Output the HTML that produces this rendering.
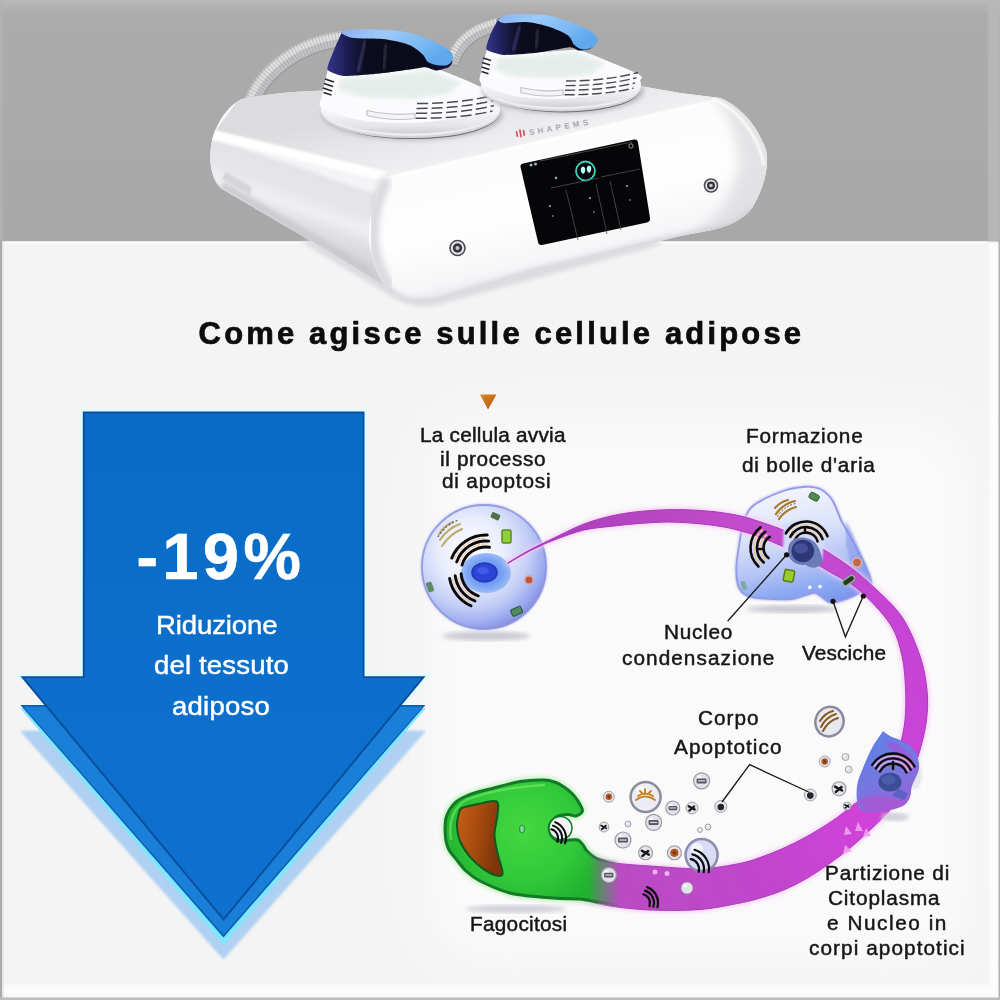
<!DOCTYPE html>
<html><head><meta charset="utf-8">
<style>
html,body{margin:0;padding:0;background:#f4f4f4;}
body{width:1000px;height:1000px;overflow:hidden;position:relative;font-family:"Liberation Sans",sans-serif;}
svg{position:absolute;left:0;top:0;}
.t{position:absolute;white-space:nowrap;color:#161616;font-family:"Liberation Sans",sans-serif;text-align:center;transform-origin:0 0;}
</style></head><body>
<svg width="1000" height="1000" viewBox="0 0 1000 1000">
<defs>
<linearGradient id="gtop" x1="0" y1="0" x2="0" y2="1"><stop offset="0" stop-color="#b9b9b9"/><stop offset="0.06" stop-color="#ababab"/><stop offset="1" stop-color="#a8a8a8"/></linearGradient>
<filter id="b1"><feGaussianBlur stdDeviation="1"/></filter>
<filter id="b2"><feGaussianBlur stdDeviation="2"/></filter>
<filter id="b3"><feGaussianBlur stdDeviation="3.5"/></filter>
<filter id="b6"><feGaussianBlur stdDeviation="6"/></filter>
<filter id="b20" x="-20%" y="-20%" width="140%" height="140%"><feGaussianBlur stdDeviation="22"/></filter>
</defs>
<!-- BG -->
<rect x="0" y="0" width="1000" height="1000" fill="#f4f4f4"/>
<rect x="0" y="0" width="1000" height="241.500" fill="url(#gtop)"/>
<rect x="2" y="241.500" width="996" height="1.500" fill="#fdfdfd"/>
<!--DEVICE-->
<defs>
<linearGradient id="dleft" gradientUnits="userSpaceOnUse" x1="292" y1="162" x2="268" y2="232"><stop offset="0" stop-color="#f4f4f6"/><stop offset="0.08" stop-color="#e4e4e8"/><stop offset="0.35" stop-color="#e6e6ea"/><stop offset="0.55" stop-color="#efeff2"/><stop offset="0.75" stop-color="#e0e0e4"/><stop offset="1" stop-color="#d2d2d7"/></linearGradient>
<linearGradient id="dfront" gradientUnits="userSpaceOnUse" x1="545" y1="140" x2="577" y2="272"><stop offset="0" stop-color="#fcfcfd"/><stop offset="0.5" stop-color="#fefefe"/><stop offset="0.85" stop-color="#f6f6f8"/><stop offset="1" stop-color="#e2e2e6"/></linearGradient>
<linearGradient id="dtop" gradientUnits="userSpaceOnUse" x1="480" y1="84" x2="497" y2="156"><stop offset="0" stop-color="#dcdcdf"/><stop offset="0.45" stop-color="#e7e7ea"/><stop offset="1" stop-color="#f1f1f3"/></linearGradient>
<linearGradient id="dright" gradientUnits="userSpaceOnUse" x1="690" y1="120" x2="770" y2="170"><stop offset="0" stop-color="#ffffff" stop-opacity="0"/><stop offset="0.55" stop-color="#efeff1" stop-opacity="0.9"/><stop offset="1" stop-color="#dcdce0"/></linearGradient>
<linearGradient id="dnavy" x1="0" y1="0" x2="1" y2="0"><stop offset="0" stop-color="#34348c"/><stop offset="0.16" stop-color="#1d1d52"/><stop offset="0.3" stop-color="#0c0c1e"/><stop offset="0.75" stop-color="#0a0a18"/><stop offset="1" stop-color="#15153a"/></linearGradient>
<linearGradient id="dblue" x1="0" y1="0" x2="1" y2="0.5"><stop offset="0" stop-color="#8eaef2"/><stop offset="0.35" stop-color="#9ccaf8"/><stop offset="0.75" stop-color="#7ab8f4"/><stop offset="1" stop-color="#5fa8ee"/></linearGradient>
<linearGradient id="ddisc" x1="0" y1="0" x2="0" y2="1"><stop offset="0" stop-color="#ffffff"/><stop offset="0.55" stop-color="#f6f6f8"/><stop offset="0.85" stop-color="#e6e6ea"/><stop offset="1" stop-color="#cfcfd4"/></linearGradient>
<clipPath id="dbody"><path d="M242 99 Q275 92.500 312 91 L480 86 L640 86 L680 93 L720 98 C740 106 757 125 766 150 C769 166 765 186 752 208 C745 218 730 226 712 230 L680 236 L654 242.400 L532 272 L434 301 C415 303.500 398 298 386 287 L330 252 L222 189 C211 180 208 160 212 141 C217 120 230 104 242 99Z"/></clipPath>
</defs>
<!-- shadow under device on white -->
<path d="M300 241L397 300C415 309 434 307 445 303L660 245V241Z" fill="#d9d9de" filter="url(#b2)" opacity="0.9"/>
<g fill="none" stroke-linecap="butt"><path d="M250 104C262 72 296 44 343 38" stroke="#9c9c9f" stroke-width="15.0" transform="translate(0.800 1.200)"/><path d="M250 104C262 72 296 44 343 38" stroke="#c3c3c5" stroke-width="15.0"/><path d="M250 104C262 72 296 44 343 38" stroke="#dfdfe0" stroke-width="6.0" transform="translate(-1.500 -2.200)"/><path d="M250 104C262 72 296 44 343 38" stroke="#77777c" stroke-width="15.0" stroke-dasharray="1 2.200" opacity="0.28"/></g><g fill="none" stroke-linecap="butt"><path d="M451 64C457 44 470 31 498 24" stroke="#9c9c9f" stroke-width="13.0" transform="translate(0.800 1.200)"/><path d="M451 64C457 44 470 31 498 24" stroke="#c3c3c5" stroke-width="13.0"/><path d="M451 64C457 44 470 31 498 24" stroke="#dfdfe0" stroke-width="5.2" transform="translate(-1.500 -2.200)"/><path d="M451 64C457 44 470 31 498 24" stroke="#77777c" stroke-width="13.0" stroke-dasharray="1 2.200" opacity="0.28"/></g><path d="M242 99 Q275 92.500 312 91 L480 86 L640 86 L680 93 L720 98 C740 106 757 125 766 150 C769 166 765 186 752 208 C745 218 730 226 712 230 L680 236 L654 242.400 L532 272 L434 301 C415 303.500 398 298 386 287 L330 252 L222 189 C211 180 208 160 212 141 C217 120 230 104 242 99Z" fill="#f7f7f9"/><g clip-path="url(#dbody)">
<path d="M205 145L242 95L312 88L480 82L640 82L725 92L735 104L721 99.500L382 180Z" fill="url(#dtop)"/>
<path d="M200 136L384 180L392 295L320 255L200 195Z" fill="url(#dleft)"/>
<path d="M206 133L386 176.500" stroke="#ffffff" stroke-width="10" filter="url(#b1)"/>
<path d="M222 185L330 248L386 283" stroke="#c6c6cc" stroke-width="8" opacity="0.8" filter="url(#b2)"/>
<path d="M226 172l26 15l-2 8l-28 -16z" fill="#d2d2d6" opacity="0.9" filter="url(#b1)"/>
<path d="M383 178C375 195 369 215 369 234C369 255 375 272 386 287L434 308L775 235L775 100L721 98.500Z" fill="url(#dfront)"/>
<path d="M383 179L721 99" stroke="#ffffff" stroke-width="3" filter="url(#b1)" opacity="0.95"/>
<path d="M383 178C375 195 369 215 369 234C369 255 375 272 386 287" stroke="#d4d4da" stroke-width="10" fill="none" filter="url(#b3)" transform="translate(4 0)"/>
<path d="M700 82L775 82L775 240L690 240C720 215 738 190 738 160C738 130 725 108 700 82Z" fill="#dadade" opacity="0.75" filter="url(#b6)"/>
<path d="M712 99C738 108 758 135 764 165" stroke="#ffffff" stroke-width="2.500" fill="none" opacity="0.9" filter="url(#b1)"/>
<path d="M386 288C398 299 415 304.500 434 302L532 273L654 243.400L712 231C730 227 745 219 752 209" stroke="#cfcfd5" stroke-width="7" fill="none" opacity="0.85" filter="url(#b2)"/>
</g>
<ellipse cx="412.5" cy="115.0" rx="90.5" ry="25.5" fill="#b4b4ba" filter="url(#b2)" opacity="0.85"/><ellipse cx="412.5" cy="113.6" rx="86.5" ry="25.5" fill="#55555d" opacity="0.75"/><ellipse cx="410.5" cy="112.6" rx="89.0" ry="25.5" fill="#d3d3d8"/><ellipse cx="410.5" cy="110.4" rx="89.5" ry="25.5" fill="#ececef"/><ellipse cx="410.5" cy="108.0" rx="89.5" ry="25.5" fill="url(#ddisc)"/><path d="M328.0 69.0 C327.2 72.6 322.8 90.8 322.0 96.0 C321.2 101.2 316.9 104.8 322.0 108.0 C327.1 111.2 348.1 118.0 360.0 120.0 C371.9 122.0 396.3 123.5 411.0 123.0 C425.7 122.5 458.3 118.5 470.0 116.0 C481.7 113.5 495.4 106.7 499.0 104.0 C502.6 101.3 500.9 98.9 497.0 96.0 C493.1 93.1 477.6 85.5 470.0 82.0 C462.4 78.5 446.0 72.1 440.0 70.0 C434.0 67.9 433.4 65.7 425.0 66.0 C416.6 66.3 387.8 70.8 377.0 72.0 C366.2 73.2 350.5 75.4 344.0 75.0 C337.5 74.6 330.1 69.8 328.0 69.0Z" fill="#fbfbfd"/><path d="M340.0 78.0 L385.0 76.0 L428.0 70.0 L462.0 82.0 L448.0 94.0 L415.0 99.0 L360.0 97.0 L338.0 90.0Z" fill="#dde8e4" opacity="0.7" filter="url(#b2)"/><path d="M342.0 32.0 C345.2 32.0 372.7 31.0 380.0 32.0 C387.3 33.0 424.0 41.7 430.0 44.0 C436.0 46.3 450.4 58.1 452.0 60.0 C453.6 61.9 450.3 66.1 449.0 67.0 C447.7 67.9 438.4 70.5 436.4 70.5 C434.4 70.5 427.6 67.3 425.4 67.2 C423.2 67.1 414.0 68.9 410.0 69.4 C406.0 70.0 382.5 73.2 377.0 73.8 C371.5 74.3 348.1 76.4 344.0 76.0 C339.9 75.6 328.3 71.6 327.5 69.4 C326.7 67.2 332.8 53.1 334.0 50.0 C335.2 46.9 341.3 33.5 342.0 32.0Z" fill="url(#dnavy)"/><path d="M365.1 40.0L358.1 72.0" stroke="#6a6ab8" stroke-width="2" opacity="0.55" filter="url(#b1)"/><path d="M386.0 44.0L383.5 70.0" stroke="#9a9ab0" stroke-width="1.500" opacity="0.45" filter="url(#b1)"/><path d="M340.7 33.1 C341.9 32.6 343.0 30.4 348.4 29.8 C353.8 29.2 368.4 29.1 377.0 29.4 C385.6 29.7 397.4 30.3 405.6 32.0 C413.9 33.7 425.4 38.0 432.0 40.8 C438.6 43.6 446.5 48.1 449.6 50.7 C452.8 53.3 453.3 56.3 453.0 58.4 C452.7 60.5 449.9 64.0 447.4 65.0 C444.9 66.0 439.4 65.5 436.4 65.0 C433.4 64.5 429.6 63.2 427.6 61.7 C425.6 60.2 425.8 57.6 423.2 55.1 C420.6 52.6 415.3 47.5 410.0 45.2 C404.7 42.9 394.6 40.7 388.0 39.7 C381.4 38.7 371.6 38.9 366.0 38.6 C360.4 38.3 354.4 38.3 350.6 37.5 C346.8 36.7 342.2 33.8 340.7 33.1Z" fill="url(#dblue)"/><g stroke="#4a4a54" stroke-width="1.500" fill="none" stroke-dasharray="11 4"><path d="M417.0 103.5Q462.0 103.7 497.0 94.5"/><path d="M416.5 108.4Q462.0 108.6 495.5 100.0"/><path d="M416.0 113.3Q462.0 113.5 494.0 105.5"/><path d="M415.5 118.2Q462.0 118.4 492.5 111.0"/></g><path d="M367 110.500Q392 116 415 113.500L415 118.500Q392 121.500 367 115.500Z" fill="#f4f4f6" stroke="#c2c2c8" stroke-width="1.200"/><g stroke="#26262e" stroke-width="1.700"><path d="M325 79l9 3M324 83.500l9 3M323 88l9 3M323.500 92.500l8 2.500"/></g><ellipse cx="563.0" cy="91.0" rx="81.0" ry="23.0" fill="#b4b4ba" filter="url(#b2)" opacity="0.85"/><ellipse cx="563.0" cy="89.6" rx="77.0" ry="23.0" fill="#55555d" opacity="0.75"/><ellipse cx="561.0" cy="88.6" rx="79.5" ry="23.0" fill="#d3d3d8"/><ellipse cx="561.0" cy="86.4" rx="80.0" ry="23.0" fill="#ececef"/><ellipse cx="561.0" cy="84.0" rx="80.0" ry="23.0" fill="url(#ddisc)"/><path d="M487.0 49.0 C486.2 52.1 481.7 67.3 481.0 72.0 C480.3 76.7 477.5 80.8 482.0 84.0 C486.5 87.2 504.6 94.0 515.0 96.0 C525.4 98.0 547.3 99.4 560.0 99.0 C572.7 98.6 599.3 95.5 610.0 93.0 C620.7 90.5 636.3 82.5 640.0 80.0 C643.7 77.5 642.0 76.4 638.0 74.0 C634.0 71.6 617.1 64.9 610.0 62.0 C602.9 59.1 589.8 53.6 585.0 52.0 C580.2 50.4 580.4 49.9 574.0 50.0 C567.6 50.1 546.3 51.9 537.0 52.5 C527.7 53.1 510.7 55.0 504.0 54.5 C497.3 54.0 489.3 49.7 487.0 49.0Z" fill="#fbfbfd"/><path d="M497.0 58.0 L532.0 56.0 L576.0 52.0 L606.0 63.0 L592.0 74.0 L565.0 78.0 L515.0 77.0 L495.0 70.0Z" fill="#dde8e4" opacity="0.7" filter="url(#b2)"/><path d="M499.0 18.0 C502.4 17.9 533.7 16.2 540.0 17.0 C546.3 17.8 570.3 24.9 575.0 27.0 C579.7 29.1 594.8 40.2 596.0 42.0 C597.2 43.8 591.4 48.3 590.0 49.0 C588.6 49.7 580.5 50.7 578.8 50.6 C577.1 50.5 573.5 47.1 570.0 47.3 C566.5 47.5 542.5 52.2 537.0 52.8 C531.5 53.4 508.2 55.3 504.0 55.0 C499.8 54.7 487.5 51.3 486.4 49.5 C485.3 47.7 489.9 35.6 491.0 33.0 C492.1 30.4 498.3 19.2 499.0 18.0Z" fill="url(#dnavy)"/><path d="M520.0 25.0L513.0 51.0" stroke="#6a6ab8" stroke-width="2" opacity="0.55" filter="url(#b1)"/><path d="M537.9 29.0L535.7 49.0" stroke="#9a9ab0" stroke-width="1.500" opacity="0.45" filter="url(#b1)"/><path d="M497.4 19.8 C499.4 19.0 503.0 15.0 510.6 14.3 C518.2 13.6 539.1 14.2 548.0 15.4 C556.9 16.6 563.7 19.7 570.0 22.0 C576.3 24.3 585.7 28.3 589.8 30.8 C593.9 33.3 596.8 36.2 597.5 38.5 C598.2 40.8 596.3 44.6 594.2 46.2 C592.1 47.9 586.2 49.7 583.2 49.5 C580.2 49.3 576.7 47.2 574.4 45.1 C572.1 43.0 571.8 38.0 567.8 35.2 C563.8 32.4 554.3 28.4 548.0 26.4 C541.7 24.4 532.6 22.5 526.0 22.0 C519.4 21.5 508.3 23.4 504.0 23.1 C499.7 22.8 498.4 20.3 497.4 19.8Z" fill="url(#dblue)"/><g stroke="#4a4a54" stroke-width="1.400" fill="none" stroke-dasharray="10 3.600"><path d="M566.0 81.0Q606.0 81.0 638.0 72.5"/><path d="M565.5 85.6Q606.0 85.6 636.5 77.7"/><path d="M565.0 90.2Q606.0 90.2 635.0 82.9"/><path d="M564.5 94.8Q606.0 94.8 633.5 88.1"/></g><path d="M521 87.500Q543 92.500 563 90L563 95Q543 98 521 92.500Z" fill="#f4f4f6" stroke="#c2c2c8" stroke-width="1.200"/><g stroke="#26262e" stroke-width="1.600"><path d="M483 58l8 2.500M482 62.500l8 2.500M481.500 67l8 2.500M481.500 71.500l7 2.200"/></g><g transform="translate(517 134) rotate(-10)"><path d="M0 -3v6M3.500 -4v8M7 -3v6" stroke="#d84a5a" stroke-width="1.600"/><text x="12" y="3.300" font-family="Liberation Sans, sans-serif" font-size="8" font-weight="bold" fill="#aaaab4" letter-spacing="3.400">SHAPEMS</text></g><path d="M523 163.500L634 139.500Q637.500 139 638 142.500L650 218Q650.500 221.500 647 222.500L542 245Q538.500 245.500 538 242L520.500 167Q520 164 523 163.500Z" fill="#060608"/><g stroke="#3fd0c0" fill="none"><circle cx="585.500" cy="171" r="9.500" stroke-width="1.800"/></g><path d="M581 168q2 -3 4 0q1 4 -2 6q-3 -2 -2 -6zM587 167q2 -3 4 0q1 4 -2 6q-3 -2 -2 -6z" fill="#bff"/><g stroke="#4a4f54" stroke-width="0.800" fill="none"><path d="M566 190L578 240M596 184L607 234M610 181L621 230M551 188L599 178M601 177L640 169"/><path d="M540 161L632 142" stroke="#555"/></g><g fill="#9bb"><circle cx="531" cy="165" r="1.500"/><circle cx="535.500" cy="164" r="1.500"/><circle cx="556" cy="178" r="1.200"/><circle cx="550" cy="206" r="1"/><circle cx="590" cy="198" r="1"/><circle cx="627" cy="186" r="1"/><circle cx="553" cy="216" r="0.800"/><circle cx="594" cy="212" r="0.800"/><circle cx="630" cy="200" r="0.800"/></g><circle cx="631" cy="146" r="2.200" fill="none" stroke="#bbb" stroke-width="0.800"/><circle cx="457.5" cy="248.0" r="7.5" fill="#e8e8ec" stroke="#4a4a52" stroke-width="1.600"/><circle cx="457.5" cy="248.0" r="4.7" fill="#34343c"/><circle cx="457.5" cy="248.0" r="2.1" fill="#c8c8d0"/><circle cx="711.0" cy="185.5" r="6.5" fill="#e8e8ec" stroke="#4a4a52" stroke-width="1.600"/><circle cx="711.0" cy="185.5" r="4.0" fill="#34343c"/><circle cx="711.0" cy="185.5" r="1.8" fill="#c8c8d0"/>
<!--/DEVICE-->
<rect id="wpatch" x="430" y="420" width="540" height="540" rx="60" fill="#fdfdfd" opacity="0.7" filter="url(#b20)"/>
<!--ARROW-->
<g>
<defs>
<linearGradient id="ga" x1="0" y1="0" x2="0" y2="1"><stop offset="0" stop-color="#086cc6"/><stop offset="0.5" stop-color="#0b6fcb"/><stop offset="1" stop-color="#0f70cf"/></linearGradient>
</defs>
<!-- halo -->
<path d="M82.800 411.500H364.500V676.300H425.500L223.500 921L20.400 676.300H82.800Z" fill="none" stroke="#dffcff" stroke-width="5" filter="url(#b1)"/>
<!-- layer3 light -->
<path d="M20.400 731H425.500L223.500 959Z" fill="#a9d4f3" filter="url(#b1)"/>
<path d="M22 731H60L223.500 915L380 731H425L223.500 959Z" fill="#b7cdf0" opacity="0.500" filter="url(#b2)"/>
<!-- cyan line -->
<path d="M20.400 708.500H425.500L223.500 945Z" fill="#7fe6ff"/>
<!-- layer2 -->
<path d="M20.400 704.900H425.500L223.500 937.500Z" fill="#0d5eae"/>
<path d="M23.500 706.700H422.500L223.500 935Z" fill="#1a7fd8"/>
<!-- cyan glint under main wing -->
<path d="M20.400 679H60L46 704.900H20.400Z" fill="#f4f4f4"/>
<!-- layer1 main -->
<path d="M82.800 411.500H364.500V676.300H425.500L223.500 921L20.400 676.300H82.800Z" fill="#0a4f9c"/>
<path d="M84.800 413.500H362.800V678H421.500L223.500 918L24.500 678H84.800Z" fill="url(#ga)"/>
</g>
<!--LOOP-->

<!--/LOOP-->
<!--CELLS-->
<defs>
<radialGradient id="gc1" cx="0.4" cy="0.37" r="0.66"><stop offset="0" stop-color="#ffffff"/><stop offset="0.4" stop-color="#e9edfc"/><stop offset="0.7" stop-color="#c3cef6"/><stop offset="0.9" stop-color="#9aa9ee"/><stop offset="1" stop-color="#888fde"/></radialGradient>
<radialGradient id="gn1" cx="0.5" cy="0.5" r="0.5"><stop offset="0" stop-color="#4f7cf0"/><stop offset="0.7" stop-color="#7aa4f4"/><stop offset="1" stop-color="#9dbcf6"/></radialGradient>
</defs>
<ellipse cx="486" cy="636" rx="44" ry="4.500" fill="#c9c9d2" filter="url(#b2)"/>
<circle cx="484" cy="567" r="63.500" fill="#c9cdf3" filter="url(#b1)"/>
<circle cx="484" cy="567" r="62" fill="url(#gc1)" stroke="#8a92de" stroke-width="1.800" stroke-opacity="0.85"/>
<ellipse cx="486" cy="573" rx="25" ry="20" fill="url(#gn1)"/>
<ellipse cx="484.500" cy="572.500" rx="12.500" ry="9.500" fill="#2c44d8" stroke="#2236b4" stroke-width="1.500"/>
<ellipse cx="483" cy="570.500" rx="6" ry="3.500" fill="#4a66ea" opacity="0.7"/>
<path d="M462.0 565.1 A25.0 25.0 0 0 1 489.5 547.2" fill="none" stroke="#0a0a0a" stroke-width="2.9" stroke-linecap="round"/><path d="M456.7 561.9 A31.0 31.0 0 0 1 488.7 541.1" fill="none" stroke="#0a0a0a" stroke-width="2.9" stroke-linecap="round"/><path d="M451.7 558.1 A37.0 37.0 0 0 1 487.3 535.0" fill="none" stroke="#0a0a0a" stroke-width="2.9" stroke-linecap="round"/><g opacity="0.9"><path d="M459.7 562.4 A28.0 28.0 0 0 1 487.0 544.0" fill="none" stroke="#f2c8a8" stroke-width="1.5" stroke-linecap="round" stroke-dasharray="3 2"/><path d="M454.7 558.7 A34.0 34.0 0 0 1 485.4 538.0" fill="none" stroke="#f2c8a8" stroke-width="1.5" stroke-linecap="round" stroke-dasharray="3 2"/></g><path d="M478.3 595.8 A25.0 25.0 0 0 1 461.1 573.7" fill="none" stroke="#0a0a0a" stroke-width="2.9" stroke-linecap="round"/><path d="M474.9 600.9 A31.0 31.0 0 0 1 455.2 575.8" fill="none" stroke="#0a0a0a" stroke-width="2.9" stroke-linecap="round"/><path d="M471.0 605.8 A37.0 37.0 0 0 1 449.6 578.4" fill="none" stroke="#0a0a0a" stroke-width="2.9" stroke-linecap="round"/><g opacity="0.9"><path d="M475.5 598.0 A28.0 28.0 0 0 1 458.3 575.9" fill="none" stroke="#f2c8a8" stroke-width="1.5" stroke-linecap="round" stroke-dasharray="3 2"/><path d="M471.6 602.8 A34.0 34.0 0 0 1 452.6 578.5" fill="none" stroke="#f2c8a8" stroke-width="1.5" stroke-linecap="round" stroke-dasharray="3 2"/></g><g stroke="#b8a25a" stroke-width="2" fill="none" stroke-linecap="round" opacity="0.9"><path d="M440 540q8 -12 20 -16"/><path d="M442 546q8 -12 20 -17"/><path d="M439 534q6 -9 14 -12"/></g><g stroke="#555" stroke-width="1.200" fill="none" stroke-dasharray="2 2"><path d="M438 537q8 -13 21 -17"/></g><rect x="502" y="530" width="9" height="13" rx="1.500" fill="#8fcf3a" stroke="#5c8a2a" stroke-width="1.500"/><circle cx="529" cy="580" r="4" fill="#c0563a" stroke="#d9a090" stroke-width="1.500"/><rect x="491" y="513" width="9" height="6" rx="1.500" fill="#4f6f4a" transform="rotate(25 495 516)"/><rect x="427" y="582" width="6" height="10" rx="1.500" fill="#5f8a66" transform="rotate(-20 430 587)"/><rect x="511" y="608" width="11" height="7" rx="1.500" fill="#4f8a5a" stroke="#2f4f3a" stroke-width="1" transform="rotate(-25 516 611)"/><defs>
<linearGradient id="gc2" gradientUnits="userSpaceOnUse" x1="790" y1="488" x2="815" y2="604"><stop offset="0" stop-color="#f2f4fd"/><stop offset="0.35" stop-color="#dde4fa"/><stop offset="0.65" stop-color="#b4c4f5"/><stop offset="0.85" stop-color="#8eaaf2"/><stop offset="1" stop-color="#7b98ee"/></linearGradient>
<clipPath id="cc2"><path d="M807.5 486.6 C803.8 487.2 794.1 487.3 785.0 490.5 C775.9 493.7 760.0 500.2 753.0 506.0 C746.0 511.8 745.3 518.5 743.0 525.0 C740.7 531.5 740.4 537.9 739.3 544.7 C738.2 551.5 736.8 559.5 736.5 566.0 C736.2 572.5 736.6 579.0 737.7 583.5 C738.8 588.0 740.5 590.7 743.0 593.0 C745.5 595.3 748.2 596.4 753.0 597.4 C757.8 598.4 765.5 598.7 772.0 599.0 C778.5 599.3 786.3 599.7 792.0 599.0 C797.7 598.3 802.2 596.0 806.0 595.0 C809.8 594.0 812.3 592.5 815.0 592.8 C817.7 593.1 819.7 595.5 822.0 597.0 C824.3 598.5 826.3 601.2 829.0 602.0 C831.7 602.8 835.2 602.0 838.0 601.5 C840.8 601.0 842.3 600.5 846.0 599.0 C849.7 597.5 855.8 595.1 860.0 592.5 C864.2 589.9 870.0 587.8 871.0 583.5 C872.0 579.2 868.1 572.2 866.0 567.0 C863.9 561.8 861.3 557.7 858.6 552.5 C855.9 547.3 852.8 541.2 850.0 536.0 C847.2 530.8 843.9 526.2 841.6 521.5 C839.3 516.8 837.8 511.9 836.0 508.0 C834.2 504.1 833.4 501.2 830.7 498.0 C828.0 494.8 823.9 490.9 820.0 489.0 C816.1 487.1 809.6 487.0 807.5 486.6Z"/></clipPath>
</defs>
<ellipse cx="792" cy="609" rx="46" ry="4" fill="#c9c9d2" filter="url(#b2)"/>
<path d="M807.5 486.6 C803.8 487.2 794.1 487.3 785.0 490.5 C775.9 493.7 760.0 500.2 753.0 506.0 C746.0 511.8 745.3 518.5 743.0 525.0 C740.7 531.5 740.4 537.9 739.3 544.7 C738.2 551.5 736.8 559.5 736.5 566.0 C736.2 572.5 736.6 579.0 737.7 583.5 C738.8 588.0 740.5 590.7 743.0 593.0 C745.5 595.3 748.2 596.4 753.0 597.4 C757.8 598.4 765.5 598.7 772.0 599.0 C778.5 599.3 786.3 599.7 792.0 599.0 C797.7 598.3 802.2 596.0 806.0 595.0 C809.8 594.0 812.3 592.5 815.0 592.8 C817.7 593.1 819.7 595.5 822.0 597.0 C824.3 598.5 826.3 601.2 829.0 602.0 C831.7 602.8 835.2 602.0 838.0 601.5 C840.8 601.0 842.3 600.5 846.0 599.0 C849.7 597.5 855.8 595.1 860.0 592.5 C864.2 589.9 870.0 587.8 871.0 583.5 C872.0 579.2 868.1 572.2 866.0 567.0 C863.9 561.8 861.3 557.7 858.6 552.5 C855.9 547.3 852.8 541.2 850.0 536.0 C847.2 530.8 843.9 526.2 841.6 521.5 C839.3 516.8 837.8 511.9 836.0 508.0 C834.2 504.1 833.4 501.2 830.7 498.0 C828.0 494.8 823.9 490.9 820.0 489.0 C816.1 487.1 809.6 487.0 807.5 486.6Z" fill="#b9c0f0" stroke="#b9c0f0" stroke-width="3" filter="url(#b1)"/>
<path d="M807.5 486.6 C803.8 487.2 794.1 487.3 785.0 490.5 C775.9 493.7 760.0 500.2 753.0 506.0 C746.0 511.8 745.3 518.5 743.0 525.0 C740.7 531.5 740.4 537.9 739.3 544.7 C738.2 551.5 736.8 559.5 736.5 566.0 C736.2 572.5 736.6 579.0 737.7 583.5 C738.8 588.0 740.5 590.7 743.0 593.0 C745.5 595.3 748.2 596.4 753.0 597.4 C757.8 598.4 765.5 598.7 772.0 599.0 C778.5 599.3 786.3 599.7 792.0 599.0 C797.7 598.3 802.2 596.0 806.0 595.0 C809.8 594.0 812.3 592.5 815.0 592.8 C817.7 593.1 819.7 595.5 822.0 597.0 C824.3 598.5 826.3 601.2 829.0 602.0 C831.7 602.8 835.2 602.0 838.0 601.5 C840.8 601.0 842.3 600.5 846.0 599.0 C849.7 597.5 855.8 595.1 860.0 592.5 C864.2 589.9 870.0 587.8 871.0 583.5 C872.0 579.2 868.1 572.2 866.0 567.0 C863.9 561.8 861.3 557.7 858.6 552.5 C855.9 547.3 852.8 541.2 850.0 536.0 C847.2 530.8 843.9 526.2 841.6 521.5 C839.3 516.8 837.8 511.9 836.0 508.0 C834.2 504.1 833.4 501.2 830.7 498.0 C828.0 494.8 823.9 490.9 820.0 489.0 C816.1 487.1 809.6 487.0 807.5 486.6Z" fill="url(#gc2)" stroke="#959be6" stroke-width="1.800"/>
<path d="M846 520 Q862 550 871 583 Q860 594 846 599 Q856 575 846 545Z" fill="#7f92ea" opacity="0.55" filter="url(#b1)"/>
<defs>
<linearGradient id="gl" gradientUnits="userSpaceOnUse" x1="508" y1="560" x2="930" y2="700"><stop offset="0" stop-color="#a63cb8"/><stop offset="0.45" stop-color="#c24ccc"/><stop offset="1" stop-color="#c743d6"/></linearGradient>
<linearGradient id="gl2" gradientUnits="userSpaceOnUse" x1="930" y1="700" x2="590" y2="890"><stop offset="0" stop-color="#c743d6"/><stop offset="0.3" stop-color="#d042d8"/><stop offset="0.6" stop-color="#c046cc"/><stop offset="1" stop-color="#b94cc2"/></linearGradient>
<clipPath id="ctop"><rect x="400" y="400" width="600" height="300"/></clipPath>
<clipPath id="cbot"><rect x="400" y="700" width="600" height="300"/></clipPath>
</defs>
<path d="M508.0 562.8 C510.8 561.1 519.7 555.6 525.0 552.6 C530.3 549.6 534.8 547.4 540.0 544.8 C545.2 542.2 548.7 540.5 556.0 537.0 C563.3 533.5 574.7 527.5 584.0 524.0 C593.3 520.5 602.7 517.9 612.0 515.8 C621.3 513.7 630.7 512.4 640.0 511.4 C649.3 510.4 658.7 509.9 668.0 509.7 C677.3 509.5 686.7 509.6 696.0 510.2 C705.3 510.8 714.7 511.5 724.0 513.0 C733.3 514.5 739.3 515.2 752.0 519.2 C764.7 523.2 785.3 530.2 800.0 537.0 C814.7 543.8 828.0 551.9 840.0 560.0 C852.0 568.1 861.7 576.1 872.0 585.6 C882.3 595.1 894.0 605.3 902.0 617.0 C910.0 628.7 915.8 643.8 920.0 656.0 C924.2 668.2 925.9 679.3 927.0 690.0 C928.1 700.7 927.7 710.0 926.5 720.0 C925.3 730.0 922.6 740.7 920.0 750.0 C917.4 759.3 914.2 768.5 911.0 776.0 C907.8 783.5 904.6 789.2 901.0 795.0 C897.4 800.8 894.4 805.1 889.6 810.6 C884.8 816.1 878.6 822.0 872.0 828.2 C865.4 834.4 857.3 842.0 850.0 848.0 C842.7 854.0 835.3 859.4 828.0 864.5 C820.7 869.6 813.3 874.6 806.0 878.8 C798.7 883.0 791.3 886.7 784.0 889.8 C776.7 892.9 769.3 895.3 762.0 897.5 C754.7 899.7 750.3 901.0 740.0 903.0 C729.7 905.0 715.0 908.3 700.0 909.5 C685.0 910.7 665.0 910.6 650.0 910.0 C635.0 909.4 620.7 907.5 610.0 906.0 C599.3 904.5 592.3 902.3 586.0 901.0 C579.7 899.7 574.3 898.5 572.0 898.0 L590.0 855.0 C593.7 856.2 602.0 860.7 612.0 862.5 C622.0 864.3 635.3 865.0 650.0 866.0 C664.7 867.0 685.0 869.1 700.0 868.7 C715.0 868.3 729.7 865.4 740.0 863.4 C750.3 861.4 754.7 859.4 762.0 856.8 C769.3 854.2 776.7 851.3 784.0 848.0 C791.3 844.7 798.7 841.0 806.0 837.0 C813.3 833.0 821.8 827.8 828.0 823.8 C834.2 819.8 839.0 816.1 843.4 812.8 C847.8 809.5 850.9 806.5 854.4 804.0 C857.9 801.5 860.9 800.7 864.5 798.0 C868.1 795.3 871.8 792.7 876.0 788.0 C880.2 783.3 886.0 777.2 890.0 770.0 C894.0 762.8 897.5 753.3 900.0 745.0 C902.5 736.7 904.1 729.2 905.0 720.0 C905.9 710.8 906.1 700.7 905.6 690.0 C905.1 679.3 904.6 667.0 902.0 656.0 C899.4 645.0 897.2 635.0 890.0 624.0 C882.8 613.0 869.0 598.7 859.0 590.0 C849.0 581.3 840.7 578.3 830.0 572.0 C819.3 565.7 806.7 557.8 795.0 552.0 C783.3 546.2 768.6 540.4 760.0 537.0 C751.4 533.6 749.6 533.5 743.6 531.8 C737.6 530.1 731.9 528.4 724.0 527.0 C716.1 525.6 705.3 524.2 696.0 523.4 C686.7 522.6 677.3 522.0 668.0 522.0 C658.7 522.0 649.3 522.7 640.0 523.4 C630.7 524.1 621.3 525.1 612.0 526.2 C602.7 527.3 593.3 527.8 584.0 530.0 C574.7 532.2 563.3 536.6 556.0 539.3 C548.7 542.0 545.2 543.6 540.0 546.0 C534.8 548.4 530.3 550.5 525.0 553.4 C519.7 556.3 510.8 561.7 508.0 563.4 Z" fill="#f4c8f4" opacity="0.9" stroke="#f4c8f4" stroke-width="4" filter="url(#b2)"/>
<path d="M508.0 562.8 C510.8 561.1 519.7 555.6 525.0 552.6 C530.3 549.6 534.8 547.4 540.0 544.8 C545.2 542.2 548.7 540.5 556.0 537.0 C563.3 533.5 574.7 527.5 584.0 524.0 C593.3 520.5 602.7 517.9 612.0 515.8 C621.3 513.7 630.7 512.4 640.0 511.4 C649.3 510.4 658.7 509.9 668.0 509.7 C677.3 509.5 686.7 509.6 696.0 510.2 C705.3 510.8 714.7 511.5 724.0 513.0 C733.3 514.5 739.3 515.2 752.0 519.2 C764.7 523.2 785.3 530.2 800.0 537.0 C814.7 543.8 828.0 551.9 840.0 560.0 C852.0 568.1 861.7 576.1 872.0 585.6 C882.3 595.1 894.0 605.3 902.0 617.0 C910.0 628.7 915.8 643.8 920.0 656.0 C924.2 668.2 925.9 679.3 927.0 690.0 C928.1 700.7 927.7 710.0 926.5 720.0 C925.3 730.0 922.6 740.7 920.0 750.0 C917.4 759.3 914.2 768.5 911.0 776.0 C907.8 783.5 904.6 789.2 901.0 795.0 C897.4 800.8 894.4 805.1 889.6 810.6 C884.8 816.1 878.6 822.0 872.0 828.2 C865.4 834.4 857.3 842.0 850.0 848.0 C842.7 854.0 835.3 859.4 828.0 864.5 C820.7 869.6 813.3 874.6 806.0 878.8 C798.7 883.0 791.3 886.7 784.0 889.8 C776.7 892.9 769.3 895.3 762.0 897.5 C754.7 899.7 750.3 901.0 740.0 903.0 C729.7 905.0 715.0 908.3 700.0 909.5 C685.0 910.7 665.0 910.6 650.0 910.0 C635.0 909.4 620.7 907.5 610.0 906.0 C599.3 904.5 592.3 902.3 586.0 901.0 C579.7 899.7 574.3 898.5 572.0 898.0 L590.0 855.0 C593.7 856.2 602.0 860.7 612.0 862.5 C622.0 864.3 635.3 865.0 650.0 866.0 C664.7 867.0 685.0 869.1 700.0 868.7 C715.0 868.3 729.7 865.4 740.0 863.4 C750.3 861.4 754.7 859.4 762.0 856.8 C769.3 854.2 776.7 851.3 784.0 848.0 C791.3 844.7 798.7 841.0 806.0 837.0 C813.3 833.0 821.8 827.8 828.0 823.8 C834.2 819.8 839.0 816.1 843.4 812.8 C847.8 809.5 850.9 806.5 854.4 804.0 C857.9 801.5 860.9 800.7 864.5 798.0 C868.1 795.3 871.8 792.7 876.0 788.0 C880.2 783.3 886.0 777.2 890.0 770.0 C894.0 762.8 897.5 753.3 900.0 745.0 C902.5 736.7 904.1 729.2 905.0 720.0 C905.9 710.8 906.1 700.7 905.6 690.0 C905.1 679.3 904.6 667.0 902.0 656.0 C899.4 645.0 897.2 635.0 890.0 624.0 C882.8 613.0 869.0 598.7 859.0 590.0 C849.0 581.3 840.7 578.3 830.0 572.0 C819.3 565.7 806.7 557.8 795.0 552.0 C783.3 546.2 768.6 540.4 760.0 537.0 C751.4 533.6 749.6 533.5 743.6 531.8 C737.6 530.1 731.9 528.4 724.0 527.0 C716.1 525.6 705.3 524.2 696.0 523.4 C686.7 522.6 677.3 522.0 668.0 522.0 C658.7 522.0 649.3 522.7 640.0 523.4 C630.7 524.1 621.3 525.1 612.0 526.2 C602.7 527.3 593.3 527.8 584.0 530.0 C574.7 532.2 563.3 536.6 556.0 539.3 C548.7 542.0 545.2 543.6 540.0 546.0 C534.8 548.4 530.3 550.5 525.0 553.4 C519.7 556.3 510.8 561.7 508.0 563.4 Z" fill="url(#gl)" stroke="#a83cba" stroke-width="1" clip-path="url(#ctop)"/>
<path d="M508.0 562.8 C510.8 561.1 519.7 555.6 525.0 552.6 C530.3 549.6 534.8 547.4 540.0 544.8 C545.2 542.2 548.7 540.5 556.0 537.0 C563.3 533.5 574.7 527.5 584.0 524.0 C593.3 520.5 602.7 517.9 612.0 515.8 C621.3 513.7 630.7 512.4 640.0 511.4 C649.3 510.4 658.7 509.9 668.0 509.7 C677.3 509.5 686.7 509.6 696.0 510.2 C705.3 510.8 714.7 511.5 724.0 513.0 C733.3 514.5 739.3 515.2 752.0 519.2 C764.7 523.2 785.3 530.2 800.0 537.0 C814.7 543.8 828.0 551.9 840.0 560.0 C852.0 568.1 861.7 576.1 872.0 585.6 C882.3 595.1 894.0 605.3 902.0 617.0 C910.0 628.7 915.8 643.8 920.0 656.0 C924.2 668.2 925.9 679.3 927.0 690.0 C928.1 700.7 927.7 710.0 926.5 720.0 C925.3 730.0 922.6 740.7 920.0 750.0 C917.4 759.3 914.2 768.5 911.0 776.0 C907.8 783.5 904.6 789.2 901.0 795.0 C897.4 800.8 894.4 805.1 889.6 810.6 C884.8 816.1 878.6 822.0 872.0 828.2 C865.4 834.4 857.3 842.0 850.0 848.0 C842.7 854.0 835.3 859.4 828.0 864.5 C820.7 869.6 813.3 874.6 806.0 878.8 C798.7 883.0 791.3 886.7 784.0 889.8 C776.7 892.9 769.3 895.3 762.0 897.5 C754.7 899.7 750.3 901.0 740.0 903.0 C729.7 905.0 715.0 908.3 700.0 909.5 C685.0 910.7 665.0 910.6 650.0 910.0 C635.0 909.4 620.7 907.5 610.0 906.0 C599.3 904.5 592.3 902.3 586.0 901.0 C579.7 899.7 574.3 898.5 572.0 898.0 L590.0 855.0 C593.7 856.2 602.0 860.7 612.0 862.5 C622.0 864.3 635.3 865.0 650.0 866.0 C664.7 867.0 685.0 869.1 700.0 868.7 C715.0 868.3 729.7 865.4 740.0 863.4 C750.3 861.4 754.7 859.4 762.0 856.8 C769.3 854.2 776.7 851.3 784.0 848.0 C791.3 844.7 798.7 841.0 806.0 837.0 C813.3 833.0 821.8 827.8 828.0 823.8 C834.2 819.8 839.0 816.1 843.4 812.8 C847.8 809.5 850.9 806.5 854.4 804.0 C857.9 801.5 860.9 800.7 864.5 798.0 C868.1 795.3 871.8 792.7 876.0 788.0 C880.2 783.3 886.0 777.2 890.0 770.0 C894.0 762.8 897.5 753.3 900.0 745.0 C902.5 736.7 904.1 729.2 905.0 720.0 C905.9 710.8 906.1 700.7 905.6 690.0 C905.1 679.3 904.6 667.0 902.0 656.0 C899.4 645.0 897.2 635.0 890.0 624.0 C882.8 613.0 869.0 598.7 859.0 590.0 C849.0 581.3 840.7 578.3 830.0 572.0 C819.3 565.7 806.7 557.8 795.0 552.0 C783.3 546.2 768.6 540.4 760.0 537.0 C751.4 533.6 749.6 533.5 743.6 531.8 C737.6 530.1 731.9 528.4 724.0 527.0 C716.1 525.6 705.3 524.2 696.0 523.4 C686.7 522.6 677.3 522.0 668.0 522.0 C658.7 522.0 649.3 522.7 640.0 523.4 C630.7 524.1 621.3 525.1 612.0 526.2 C602.7 527.3 593.3 527.8 584.0 530.0 C574.7 532.2 563.3 536.6 556.0 539.3 C548.7 542.0 545.2 543.6 540.0 546.0 C534.8 548.4 530.3 550.5 525.0 553.4 C519.7 556.3 510.8 561.7 508.0 563.4 Z" fill="url(#gl2)" stroke="#a83cba" stroke-width="1" clip-path="url(#cbot)"/>
<path d="M784 524L806 519L826 527L822 560L800 566L783 548Z" fill="#d3dbf8" filter="url(#b1)"/><path d="M768.5 558.0 A13.0 13.0 0 0 1 769.6 536.8" fill="none" stroke="#0a0a0a" stroke-width="2.6" stroke-linecap="round"/><path d="M763.7 562.5 A19.5 19.5 0 0 1 765.3 531.8" fill="none" stroke="#0a0a0a" stroke-width="2.6" stroke-linecap="round"/><path d="M758.4 566.5 A26.0 26.0 0 0 1 760.5 527.3" fill="none" stroke="#0a0a0a" stroke-width="2.6" stroke-linecap="round"/><g opacity="0.95"><path d="M765.7 559.8 A16.2 16.2 0 0 1 767.0 534.7" fill="none" stroke="#f0c890" stroke-width="1.8" stroke-linecap="round" stroke-dasharray="3 2"/><path d="M760.4 563.9 A22.7 22.7 0 0 1 762.2 530.2" fill="none" stroke="#f0c890" stroke-width="1.8" stroke-linecap="round" stroke-dasharray="3 2"/></g><path d="M757 549h6" stroke="#0a0a0a" stroke-width="2.400"/><path d="M795.0 539.8 A12.0 12.0 0 0 1 817.6 541.4" fill="none" stroke="#0a0a0a" stroke-width="2.6" stroke-linecap="round"/><path d="M790.3 536.8 A17.5 17.5 0 0 1 822.6 539.1" fill="none" stroke="#0a0a0a" stroke-width="2.6" stroke-linecap="round"/><path d="M785.9 533.3 A23.0 23.0 0 0 1 827.5 536.3" fill="none" stroke="#0a0a0a" stroke-width="2.6" stroke-linecap="round"/><g opacity="0.95"><path d="M793.0 537.6 A14.7 14.7 0 0 1 819.8 539.5" fill="none" stroke="#f4d4b0" stroke-width="1.6" stroke-linecap="round" stroke-dasharray="3 2"/><path d="M788.7 534.1 A20.2 20.2 0 0 1 824.6 536.6" fill="none" stroke="#f4d4b0" stroke-width="1.6" stroke-linecap="round" stroke-dasharray="3 2"/></g><path d="M805 527v7" stroke="#0a0a0a" stroke-width="2.400"/><path d="M788 551C788 540 796 536 806 538C816 540 820 548 822 558C824 568 812 570 806 565C798 566 788 562 788 551Z" fill="#6c7cb8"/><circle cx="802.800" cy="551" r="11.300" fill="#2e3878"/><ellipse cx="801" cy="548.500" rx="7" ry="5" fill="#4a58a0" opacity="0.8"/><g stroke="#a8782a" stroke-width="2.200" fill="none" stroke-linecap="round"><path d="M776 514q7 -10 19 -13"/><path d="M779 519q6 -9 17 -12"/><path d="M775 508q5 -6 13 -8"/></g><g stroke="#3a3010" stroke-width="1" fill="none" stroke-dasharray="1.500 2"><path d="M777.500 516.500q6 -10 18 -13"/></g><rect x="809" y="493.500" width="10" height="6.500" rx="2" fill="#4f8a50" stroke="#2a4a2a" stroke-width="0.800" transform="rotate(28 814 497)"/><rect x="784" y="570" width="10" height="11.500" rx="1.500" fill="#9acc2a" stroke="#5a7a1a" stroke-width="1.500" transform="rotate(12 789 575.700)"/><circle cx="857" cy="562.600" r="4.600" fill="#c0684a" stroke="#e4b0a0" stroke-width="1.600"/><rect x="842" y="577.500" width="13" height="6" rx="2.500" fill="#2c342c" stroke="#86b686" stroke-width="1.500" transform="rotate(-35 848.600 580.400)"/><circle cx="809.800" cy="587.400" r="1.800" fill="#fff"/><circle cx="820" cy="586.600" r="1.800" fill="#fff"/><rect x="741.500" y="581" width="4.500" height="9" rx="1.500" fill="#7fa8a0" transform="rotate(-20 744 585)"/><defs>
<linearGradient id="gc3" gradientUnits="userSpaceOnUse" x1="860" y1="740" x2="905" y2="810"><stop offset="0" stop-color="#5f80e8"/><stop offset="0.5" stop-color="#7478e0"/><stop offset="1" stop-color="#9a62d8"/></linearGradient>
</defs>
<ellipse cx="915" cy="775" rx="7" ry="14" fill="#e6e6ee" filter="url(#b1)"/>
<ellipse cx="895" cy="817" rx="14" ry="4" fill="#cfcfd8" filter="url(#b2)"/>
<path d="M883.0 731.0 C884.2 731.8 886.8 734.3 890.0 736.0 C893.2 737.7 897.8 738.5 902.0 741.0 C906.2 743.5 912.2 746.5 915.0 751.0 C917.8 755.5 919.5 762.2 919.0 768.0 C918.5 773.8 913.5 781.2 912.0 786.0 C910.5 790.8 911.5 793.7 910.0 797.0 C908.5 800.3 907.2 803.7 903.0 806.0 C898.8 808.3 891.2 810.0 885.0 811.0 C878.8 812.0 870.5 812.8 866.0 812.0 C861.5 811.2 859.5 810.3 858.0 806.0 C856.5 801.7 856.2 792.3 857.0 786.0 C857.8 779.7 860.5 774.3 863.0 768.0 C865.5 761.7 868.7 754.2 872.0 748.0 C875.3 741.8 881.2 733.8 883.0 731.0Z" fill="url(#gc3)"/>
<path d="M884 740L900 745L912 756L915 770L905 770L893 752Z" fill="#b64ad6" opacity="0.55"/>
<path d="M858 800L875 795L905 800L903 806L885 811L866 812Z" fill="#b450d0" opacity="0.6"/>
<path d="M880.0 771.6 A14.5 14.5 0 0 1 906.4 772.6" fill="none" stroke="#0a0a0a" stroke-width="2.3" stroke-linecap="round"/><path d="M875.9 768.5 A19.5 19.5 0 0 1 910.7 769.8" fill="none" stroke="#0a0a0a" stroke-width="2.3" stroke-linecap="round"/><path d="M872.2 765.0 A24.5 24.5 0 0 1 914.6 766.5" fill="none" stroke="#0a0a0a" stroke-width="2.3" stroke-linecap="round"/><g opacity="0.85"><path d="M878.3 769.5 A17.0 17.0 0 0 1 908.3 770.5" fill="none" stroke="#f0b0c8" stroke-width="1.6" stroke-linecap="round"/><path d="M874.5 766.0 A22.0 22.0 0 0 1 912.2 767.3" fill="none" stroke="#f0b0c8" stroke-width="1.6" stroke-linecap="round"/></g><path d="M893 762v7" stroke="#111" stroke-width="2.500" stroke-linecap="round"/><ellipse cx="890" cy="782" rx="11.500" ry="9.500" fill="#3c4c96"/><ellipse cx="888.500" cy="780" rx="7" ry="5" fill="#4f62b0" opacity="0.8"/><path d="M898 788l10 6l-4 6l-12 -4z" fill="#5060b8" opacity="0.8"/><defs>
<linearGradient id="gphm" gradientUnits="userSpaceOnUse" x1="588" y1="0" x2="620" y2="0"><stop offset="0" stop-color="#fff"/><stop offset="1" stop-color="#000"/></linearGradient>
<mask id="mph" maskUnits="userSpaceOnUse" x="430" y="760" width="230" height="170"><rect x="430" y="760" width="230" height="170" fill="url(#gphm)"/></mask>
<radialGradient id="gph2" gradientUnits="userSpaceOnUse" cx="525" cy="830" r="85"><stop offset="0" stop-color="#44d840"/><stop offset="0.6" stop-color="#31c83a"/><stop offset="1" stop-color="#22b030"/></radialGradient>
<linearGradient id="gbr" x1="0" y1="0" x2="1" y2="0.3"><stop offset="0" stop-color="#c86018"/><stop offset="0.5" stop-color="#a84c10"/><stop offset="1" stop-color="#7c3408"/></linearGradient>
</defs>
<ellipse cx="516" cy="909" rx="50" ry="4" fill="#cfcfd8" filter="url(#b2)"/>
<g mask="url(#mph)">
<path d="M445.0 829.0 C445.1 827.4 445.2 821.0 446.0 818.0 C446.8 815.0 448.5 811.4 450.0 809.0 C451.5 806.6 453.9 803.8 456.0 802.0 C458.1 800.2 461.0 798.4 464.0 797.0 C467.0 795.6 472.1 793.7 476.0 792.5 C479.9 791.3 483.4 790.6 490.0 789.0 C496.6 787.4 511.9 782.9 520.0 781.5 C528.1 780.1 538.6 779.9 544.0 780.0 C549.4 780.1 553.0 781.5 556.0 782.5 C559.0 783.5 561.6 785.4 564.0 787.0 C566.4 788.6 569.9 791.4 572.0 793.5 C574.1 795.6 576.4 798.4 578.0 801.0 C579.6 803.6 582.8 808.8 582.5 811.0 C582.2 813.2 578.2 815.5 576.0 816.0 C573.8 816.5 570.9 814.4 568.0 814.5 C565.1 814.6 559.8 814.9 557.0 816.5 C554.2 818.1 550.4 822.2 549.5 825.0 C548.6 827.8 549.6 832.6 551.0 835.0 C552.4 837.4 556.1 840.2 559.0 841.0 C561.9 841.8 567.1 840.1 570.0 840.0 C572.9 839.9 576.0 839.2 578.0 840.0 C580.0 840.8 581.6 843.4 583.0 845.0 C584.4 846.6 584.8 848.9 587.0 851.0 C589.2 853.1 594.2 857.4 598.0 859.0 C601.8 860.6 604.2 860.5 612.0 861.5 C619.8 862.5 644.3 858.7 650.0 866.0 C655.7 873.3 655.1 904.1 650.0 910.0 C644.9 915.9 623.8 906.2 616.0 905.0 C608.2 903.8 603.4 902.9 598.0 902.0 C592.6 901.1 585.7 899.5 580.0 899.0 C574.3 898.5 566.0 898.8 560.0 898.5 C554.0 898.2 547.5 897.8 540.0 897.0 C532.5 896.2 519.0 895.4 510.0 893.0 C501.0 890.6 486.6 884.3 480.0 881.0 C473.4 877.7 469.6 874.3 466.0 871.0 C462.4 867.7 458.6 862.1 456.0 859.0 C453.4 855.9 450.5 852.7 449.0 850.0 C447.5 847.3 446.6 844.1 446.0 841.0 C445.4 837.9 445.1 830.8 445.0 829.0Z" fill="#b9f0b4" stroke="#b9f0b4" stroke-width="6" filter="url(#b2)"/>
<path d="M445.0 829.0 C445.1 827.4 445.2 821.0 446.0 818.0 C446.8 815.0 448.5 811.4 450.0 809.0 C451.5 806.6 453.9 803.8 456.0 802.0 C458.1 800.2 461.0 798.4 464.0 797.0 C467.0 795.6 472.1 793.7 476.0 792.5 C479.9 791.3 483.4 790.6 490.0 789.0 C496.6 787.4 511.9 782.9 520.0 781.5 C528.1 780.1 538.6 779.9 544.0 780.0 C549.4 780.1 553.0 781.5 556.0 782.5 C559.0 783.5 561.6 785.4 564.0 787.0 C566.4 788.6 569.9 791.4 572.0 793.5 C574.1 795.6 576.4 798.4 578.0 801.0 C579.6 803.6 582.8 808.8 582.5 811.0 C582.2 813.2 578.2 815.5 576.0 816.0 C573.8 816.5 570.9 814.4 568.0 814.5 C565.1 814.6 559.8 814.9 557.0 816.5 C554.2 818.1 550.4 822.2 549.5 825.0 C548.6 827.8 549.6 832.6 551.0 835.0 C552.4 837.4 556.1 840.2 559.0 841.0 C561.9 841.8 567.1 840.1 570.0 840.0 C572.9 839.9 576.0 839.2 578.0 840.0 C580.0 840.8 581.6 843.4 583.0 845.0 C584.4 846.6 584.8 848.9 587.0 851.0 C589.2 853.1 594.2 857.4 598.0 859.0 C601.8 860.6 604.2 860.5 612.0 861.5 C619.8 862.5 644.3 858.7 650.0 866.0 C655.7 873.3 655.1 904.1 650.0 910.0 C644.9 915.9 623.8 906.2 616.0 905.0 C608.2 903.8 603.4 902.9 598.0 902.0 C592.6 901.1 585.7 899.5 580.0 899.0 C574.3 898.5 566.0 898.8 560.0 898.5 C554.0 898.2 547.5 897.8 540.0 897.0 C532.5 896.2 519.0 895.4 510.0 893.0 C501.0 890.6 486.6 884.3 480.0 881.0 C473.4 877.7 469.6 874.3 466.0 871.0 C462.4 867.7 458.6 862.1 456.0 859.0 C453.4 855.9 450.5 852.7 449.0 850.0 C447.5 847.3 446.6 844.1 446.0 841.0 C445.4 837.9 445.1 830.8 445.0 829.0Z" fill="url(#gph2)" stroke="#117a26" stroke-width="3" stroke-linejoin="round"/>
</g>
<path d="M459.0 813.0 C459.5 812.2 458.8 809.5 462.0 808.0 C465.2 806.5 472.2 805.1 478.0 804.0 C483.8 802.9 493.2 799.7 496.5 801.5 C499.8 803.3 497.8 809.4 497.5 815.0 C497.2 820.6 494.4 828.3 494.5 835.0 C494.6 841.7 496.7 848.4 498.0 855.0 C499.3 861.6 503.8 871.5 502.5 874.5 C501.2 877.5 495.1 875.6 490.0 873.0 C484.9 870.4 477.0 864.3 472.0 859.0 C467.0 853.7 462.5 846.7 460.0 841.0 C457.5 835.3 457.2 829.7 457.0 825.0 C456.8 820.3 458.7 815.0 459.0 813.0Z" fill="url(#gbr)" stroke="#0f5a1c" stroke-width="2"/><path d="M451 840Q447 812 466 800Q500 787 545 785" fill="none" stroke="#7cf070" stroke-width="2.500" opacity="0.55"/><ellipse cx="522" cy="829" rx="2.500" ry="4" fill="#7fd8a0" stroke="#1f8a3a" stroke-width="1"/><circle cx="560.500" cy="828" r="11.500" fill="#f2f2f6" stroke="#117a26" stroke-width="1.500"/><path d="M551.3 829.3 A9.0 9.0 0 0 1 557.2 841.8" fill="none" stroke="#0a0a0a" stroke-width="2.0" stroke-linecap="round"/><path d="M553.0 825.6 A13.0 13.0 0 0 1 561.1 842.9" fill="none" stroke="#0a0a0a" stroke-width="2.0" stroke-linecap="round"/><path d="M555.1 822.1 A17.0 17.0 0 0 1 565.1 843.5" fill="none" stroke="#0a0a0a" stroke-width="2.0" stroke-linecap="round"/><defs><filter id="b05"><feGaussianBlur stdDeviation="0.45"/></filter></defs><g filter="url(#b05)"><g><circle cx="608.8" cy="796.8" r="5.5" fill="#e2e2e8" stroke="#9a9aa6" stroke-width="0.9"/><circle cx="607.1" cy="794.9" r="1.6" fill="#ffffff" opacity="0.8"/><circle cx="608.8" cy="796.8" r="3.2" fill="#b8541c"/><circle cx="608.8" cy="796.8" r="1.4" fill="#6a3a1a"/></g><g><circle cx="701.6" cy="780.8" r="8.0" fill="#e2e2e8" stroke="#9a9aa6" stroke-width="1.2"/><circle cx="699.2" cy="778.0" r="2.4" fill="#ffffff" opacity="0.8"/><rect x="696.6" y="778.4" width="9.9" height="5.0" rx="1.2" fill="#55555e"/><rect x="698.0" y="780.2" width="7.2" height="1.3" fill="#d8d8e0"/></g><g><circle cx="672.8" cy="808.0" r="7.0" fill="#e2e2e8" stroke="#9a9aa6" stroke-width="1.1"/><circle cx="670.7" cy="805.5" r="2.1" fill="#ffffff" opacity="0.8"/><rect x="668.5" y="805.9" width="8.7" height="4.3" rx="1.2" fill="#55555e"/><rect x="669.6" y="807.4" width="6.3" height="1.1" fill="#d8d8e0"/></g><g><circle cx="692.0" cy="808.0" r="6.0" fill="#e2e2e8" stroke="#9a9aa6" stroke-width="0.9"/><circle cx="690.2" cy="805.9" r="1.8" fill="#ffffff" opacity="0.8"/><path d="M688.7 806.2l6.0 3.3M689.3 810.7l4.8 -4.2" stroke="#18181c" stroke-width="2.2" stroke-linecap="round"/></g><g><circle cx="720.8" cy="806.4" r="6.0" fill="#e2e2e8" stroke="#9a9aa6" stroke-width="0.9"/><circle cx="719.0" cy="804.3" r="1.8" fill="#ffffff" opacity="0.8"/><circle cx="720.8" cy="807.0" r="3.3" fill="#26262c"/></g><g><circle cx="604.0" cy="827.0" r="5.0" fill="#e2e2e8" stroke="#9a9aa6" stroke-width="0.9"/><circle cx="602.5" cy="825.2" r="1.5" fill="#ffffff" opacity="0.8"/><path d="M601.2 825.5l5.0 2.8M601.8 829.2l4.0 -3.5" stroke="#18181c" stroke-width="1.8" stroke-linecap="round"/></g><g><circle cx="653.6" cy="822.4" r="8.0" fill="#e2e2e8" stroke="#9a9aa6" stroke-width="1.2"/><circle cx="651.2" cy="819.6" r="2.4" fill="#ffffff" opacity="0.8"/><rect x="648.6" y="820.0" width="9.9" height="5.0" rx="1.2" fill="#55555e"/><rect x="650.0" y="821.8" width="7.2" height="1.3" fill="#d8d8e0"/></g><g><circle cx="623.0" cy="840.0" r="8.0" fill="#e2e2e8" stroke="#9a9aa6" stroke-width="1.2"/><circle cx="620.6" cy="837.2" r="2.4" fill="#ffffff" opacity="0.8"/><rect x="618.0" y="837.6" width="9.9" height="5.0" rx="1.2" fill="#55555e"/><rect x="619.4" y="839.4" width="7.2" height="1.3" fill="#d8d8e0"/></g><g><circle cx="645.6" cy="852.8" r="7.0" fill="#e2e2e8" stroke="#9a9aa6" stroke-width="1.1"/><circle cx="643.5" cy="850.3" r="2.1" fill="#ffffff" opacity="0.8"/><path d="M641.8 850.7l7.0 3.9M642.5 855.9l5.6 -4.9" stroke="#18181c" stroke-width="2.5" stroke-linecap="round"/></g><g><circle cx="674.4" cy="852.8" r="7.0" fill="#e2e2e8" stroke="#9a9aa6" stroke-width="1.1"/><circle cx="672.3" cy="850.3" r="2.1" fill="#ffffff" opacity="0.8"/><circle cx="674.4" cy="852.8" r="4.1" fill="#b8541c"/><circle cx="674.4" cy="852.8" r="1.8" fill="#6a3a1a"/></g><g><circle cx="628.0" cy="824.0" r="3.0" fill="#e2e2e8" stroke="#9a9aa6" stroke-width="0.9"/><circle cx="627.1" cy="823.0" r="0.9" fill="#ffffff" opacity="0.8"/></g><g><circle cx="708.0" cy="827.0" r="3.0" fill="#e2e2e8" stroke="#9a9aa6" stroke-width="0.9"/><circle cx="707.1" cy="826.0" r="0.9" fill="#ffffff" opacity="0.8"/></g><g><circle cx="700.0" cy="830.0" r="2.5" fill="#e2e2e8" stroke="#9a9aa6" stroke-width="0.9"/><circle cx="699.2" cy="829.1" r="0.8" fill="#ffffff" opacity="0.8"/></g><g><circle cx="824.7" cy="761.5" r="5.5" fill="#e2e2e8" stroke="#9a9aa6" stroke-width="0.9"/><circle cx="823.1" cy="759.6" r="1.6" fill="#ffffff" opacity="0.8"/><circle cx="824.7" cy="761.5" r="3.2" fill="#b8541c"/><circle cx="824.7" cy="761.5" r="1.4" fill="#6a3a1a"/></g><g><circle cx="845.5" cy="757.0" r="3.5" fill="#e2e2e8" stroke="#9a9aa6" stroke-width="0.9"/><circle cx="844.5" cy="755.8" r="1.1" fill="#ffffff" opacity="0.8"/></g><g><circle cx="848.7" cy="769.5" r="3.5" fill="#e2e2e8" stroke="#9a9aa6" stroke-width="0.9"/><circle cx="847.7" cy="768.3" r="1.1" fill="#ffffff" opacity="0.8"/></g><g><circle cx="839.0" cy="788.7" r="7.0" fill="#e2e2e8" stroke="#9a9aa6" stroke-width="1.1"/><circle cx="836.9" cy="786.2" r="2.1" fill="#ffffff" opacity="0.8"/><path d="M835.1 786.6l7.0 3.9M835.9 791.9l5.6 -4.9" stroke="#18181c" stroke-width="2.5" stroke-linecap="round"/></g><g><circle cx="810.3" cy="795.0" r="6.0" fill="#e2e2e8" stroke="#9a9aa6" stroke-width="0.9"/><circle cx="808.5" cy="792.9" r="1.8" fill="#ffffff" opacity="0.8"/><circle cx="810.3" cy="795.6" r="3.3" fill="#26262c"/></g><g><circle cx="847.0" cy="806.0" r="4.0" fill="#e2e2e8" stroke="#9a9aa6" stroke-width="0.9"/><circle cx="845.8" cy="804.6" r="1.2" fill="#ffffff" opacity="0.8"/><path d="M844.8 804.8l4.0 2.2M845.2 807.8l3.2 -2.8" stroke="#18181c" stroke-width="1.6" stroke-linecap="round"/></g><circle cx="645.600" cy="797" r="15" fill="#ececf2" stroke="#8c8c9c" stroke-width="2.500"/><circle cx="642" cy="792" r="6" fill="#fff" opacity="0.7"/><g stroke="#c8862a" stroke-width="2" stroke-linecap="round" fill="none"><path d="M636 800q9 -7 19 0"/><path d="M638 796q7 -5 15 0"/><path d="M645 789v5M640 791l3 3M651 791l-3 3"/></g><circle cx="701.600" cy="855" r="16" fill="#d9dcf4" stroke="#8c8cb0" stroke-width="2.500"/><circle cx="697" cy="849" r="6" fill="#fff" opacity="0.7"/><path d="M690.7 859.2 A10.0 10.0 0 0 1 698.7 871.6" fill="none" stroke="#0a0a0a" stroke-width="2.2" stroke-linecap="round"/><path d="M692.4 854.4 A15.0 15.0 0 0 1 703.7 872.1" fill="none" stroke="#0a0a0a" stroke-width="2.2" stroke-linecap="round"/><path d="M694.5 849.8 A20.0 20.0 0 0 1 708.8 872.1" fill="none" stroke="#0a0a0a" stroke-width="2.2" stroke-linecap="round"/><ellipse cx="829.500" cy="721.600" rx="14" ry="15" fill="#e8e8f0" stroke="#8a8aa0" stroke-width="2.500" transform="rotate(20 829.500 721.600)"/><g stroke="#8a5a1c" stroke-width="2" stroke-linecap="round" fill="none"><path d="M821 727q5 -10 15 -13"/><path d="M823 731q5 -10 15 -13"/><path d="M820 721q5 -8 13 -10"/></g><g><circle cx="608.8" cy="875.0" r="7.5" fill="#e2e2e8" stroke="#9a9aa6" stroke-width="1.1"/><circle cx="606.5" cy="872.4" r="2.2" fill="#ffffff" opacity="0.8"/><rect x="604.1" y="872.8" width="9.3" height="4.7" rx="1.2" fill="#55555e"/><rect x="605.4" y="874.4" width="6.8" height="1.2" fill="#d8d8e0"/></g><g><circle cx="687.0" cy="888.0" r="6.0" fill="#e2e2e8" stroke="#9a9aa6" stroke-width="0.9"/><circle cx="685.2" cy="885.9" r="1.8" fill="#ffffff" opacity="0.8"/></g><path d="M643.3 894.3 A9.0 9.0 0 0 1 649.5 906.1" fill="none" stroke="#0a0a0a" stroke-width="2.2" stroke-linecap="round"/><path d="M645.0 890.6 A13.0 13.0 0 0 1 653.4 906.8" fill="none" stroke="#0a0a0a" stroke-width="2.2" stroke-linecap="round"/><path d="M647.1 887.1 A17.0 17.0 0 0 1 657.5 907.1" fill="none" stroke="#0a0a0a" stroke-width="2.2" stroke-linecap="round"/><circle cx="655" cy="872" r="2.500" fill="#eeb0f0"/><circle cx="667" cy="873.500" r="2.500" fill="#eeb0f0"/><g fill="#f0a0f0" opacity="0.9"><path d="M846 826l6 8l-8 1z"/><path d="M858 822l5 9l-8 0z"/><path d="M866 828l5 8l-8 1z"/><path d="M845 845l7 6l-9 3z"/></g></g><g stroke="#1c1c1c" stroke-width="1.350" fill="none" stroke-linecap="round"><path d="M786.600 554.800L728 620.800"/><path d="M833 601.300L845.400 636.800L863.300 596"/><path d="M722.400 801.500L749.600 764.700L808.700 792"/></g><g fill="#111"><circle cx="786.600" cy="554.800" r="2.600"/><circle cx="833" cy="601.300" r="2.600"/><circle cx="863.300" cy="596" r="2.600"/></g><defs><linearGradient id="gm" x1="0" y1="0" x2="1" y2="1"><stop offset="0" stop-color="#d98a2a"/><stop offset="1" stop-color="#b4520a"/></linearGradient></defs><path d="M480 394.500H496.500L488 409.500Z" fill="url(#gm)"/>
<!--/CELLS-->
<!-- frame -->
<rect x="988" y="0" width="12" height="241.500" fill="#b7b7b7" filter="url(#b1)"/>
<rect x="0" y="0" width="3" height="241.500" fill="#b2b2b2" filter="url(#b1)"/>
<rect x="989" y="243" width="9.500" height="755" fill="#fcfcfc" filter="url(#b1)"/>
<rect x="2" y="985" width="996" height="12.500" fill="#fbfbfb" filter="url(#b2)"/>
<rect x="0" y="241" width="2" height="759" fill="#ababab"/>
<rect x="2" y="242" width="1.500" height="758" fill="#e2e2e2"/>
<rect x="998.500" y="241" width="1.500" height="759" fill="#b2b2b2"/>
<rect x="0" y="997.500" width="1000" height="2.500" fill="#bcbcbc"/>
</svg>
<!--TEXT-->
<div class="t" style="left:198.60px;top:316.14px;font-size:31.00px;letter-spacing:3.158px;color:#0c0c0c;transform:scaleX(1.000);font-weight:bold;-webkit-text-stroke:0.7px #0c0c0c;">Come agisce sulle cellule adipose</div>
<div class="t" style="left:136.50px;top:520.23px;font-size:64.50px;letter-spacing:4.626px;color:#ffffff;transform:scaleX(1.000);font-weight:bold;-webkit-text-stroke:0.7px #ffffff;">-19%</div>
<div class="t" style="left:156.20px;top:609.87px;font-size:26.00px;letter-spacing:-0.125px;color:#ffffff;transform:scaleX(1.060);-webkit-text-stroke:0.45px #ffffff;">Riduzione</div>
<div class="t" style="left:153.70px;top:650.47px;font-size:26.00px;letter-spacing:0.147px;color:#ffffff;transform:scaleX(1.060);-webkit-text-stroke:0.45px #ffffff;">del tessuto</div>
<div class="t" style="left:171.90px;top:690.77px;font-size:26.00px;letter-spacing:0.205px;color:#ffffff;transform:scaleX(1.060);-webkit-text-stroke:0.45px #ffffff;">adiposo</div>
<div class="t" style="left:419.50px;top:424.46px;font-size:19.60px;letter-spacing:0.217px;color:#161616;transform:scaleX(1.060);-webkit-text-stroke:0.45px #161616;">La cellula avvia</div>
<div class="t" style="left:439.60px;top:447.96px;font-size:19.60px;letter-spacing:0.592px;color:#161616;transform:scaleX(1.060);-webkit-text-stroke:0.45px #161616;">il processo</div>
<div class="t" style="left:441.50px;top:470.36px;font-size:19.60px;letter-spacing:0.766px;color:#161616;transform:scaleX(1.060);-webkit-text-stroke:0.45px #161616;">di apoptosi</div>
<div class="t" style="left:746.30px;top:424.76px;font-size:19.60px;letter-spacing:0.744px;color:#161616;transform:scaleX(1.060);-webkit-text-stroke:0.45px #161616;">Formazione</div>
<div class="t" style="left:741.50px;top:453.76px;font-size:19.60px;letter-spacing:0.752px;color:#161616;transform:scaleX(1.060);-webkit-text-stroke:0.45px #161616;">di bolle d&#39;aria</div>
<div class="t" style="left:664.10px;top:620.66px;font-size:19.60px;letter-spacing:0.679px;color:#161616;transform:scaleX(1.060);-webkit-text-stroke:0.45px #161616;">Nucleo</div>
<div class="t" style="left:622.20px;top:646.76px;font-size:19.60px;letter-spacing:0.996px;color:#161616;transform:scaleX(1.060);-webkit-text-stroke:0.45px #161616;">condensazione</div>
<div class="t" style="left:802.00px;top:641.56px;font-size:19.60px;letter-spacing:0.116px;color:#161616;transform:scaleX(1.060);-webkit-text-stroke:0.45px #161616;">Vesciche</div>
<div class="t" style="left:698.00px;top:706.86px;font-size:19.60px;letter-spacing:0.916px;color:#161616;transform:scaleX(1.060);-webkit-text-stroke:0.45px #161616;">Corpo</div>
<div class="t" style="left:674.40px;top:735.86px;font-size:19.60px;letter-spacing:0.979px;color:#161616;transform:scaleX(1.060);-webkit-text-stroke:0.45px #161616;">Apoptotico</div>
<div class="t" style="left:469.70px;top:912.76px;font-size:19.60px;letter-spacing:0.259px;color:#161616;transform:scaleX(1.060);-webkit-text-stroke:0.45px #161616;">Fagocitosi</div>
<div class="t" style="left:825.10px;top:862.46px;font-size:19.60px;letter-spacing:0.789px;color:#161616;transform:scaleX(1.060);-webkit-text-stroke:0.45px #161616;">Partizione di</div>
<div class="t" style="left:827.80px;top:887.26px;font-size:19.60px;letter-spacing:0.814px;color:#161616;transform:scaleX(1.060);-webkit-text-stroke:0.45px #161616;">Citoplasma</div>
<div class="t" style="left:827.40px;top:911.96px;font-size:19.60px;letter-spacing:1.457px;color:#161616;transform:scaleX(1.060);-webkit-text-stroke:0.45px #161616;">e Nucleo in</div>
<div class="t" style="left:809.40px;top:937.16px;font-size:19.60px;letter-spacing:1.005px;color:#161616;transform:scaleX(1.060);-webkit-text-stroke:0.45px #161616;">corpi apoptotici</div>
<!--/TEXT-->
</body></html>
